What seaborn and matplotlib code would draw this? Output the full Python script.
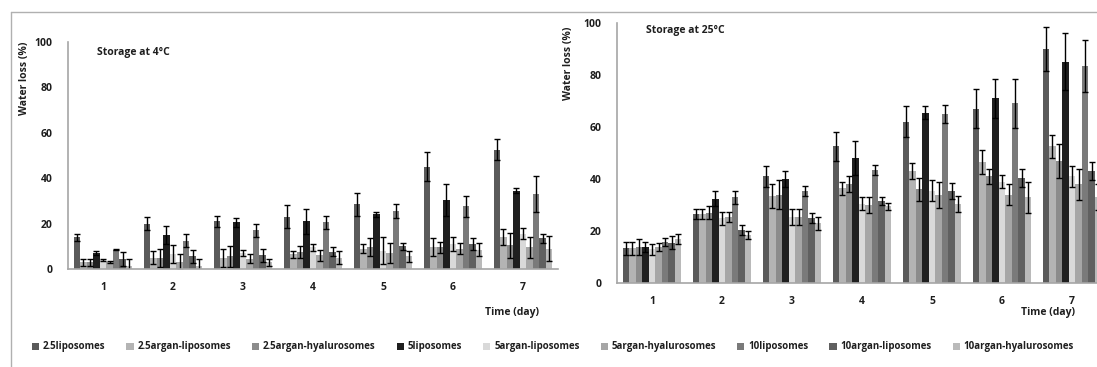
from matplotlib import pyplot as plt
import matplotlib.lines as mlines
import numpy as np
import seaborn as sns
import pandas as pd

days = ['1', '2', '3', '4', '5', '6', '7']
series = ['2.5liposomes', '2.5argan-liposomes', '2.5argan-hyalurosomes', '5liposomes',
          '5argan-liposomes', '5argan-hyalurosomes', '10liposomes', '10argan-liposomes',
          '10argan-hyalurosomes']
greys = ['#5a5a5a', '#b4b4b4', '#8c8c8c', '#1f1f1f', '#d9d9d9', '#a6a6a6', '#7a7a7a',
         '#606060', '#bababa']

# storage at 4 C, one row per formulation, one value per day
cold_mean = [
    [14, 20, 21, 23, 28.5, 45, 52.5],
    [3, 5, 5, 6.5, 9, 9.5, 14],
    [3, 5, 5.5, 7.5, 9.5, 9.5, 10.5],
    [7, 15, 20.5, 21, 24, 30.5, 34.5],
    [4, 6.5, 7, 9.5, 8, 11, 15.5],
    [3, 3, 4.5, 6, 7, 9, 9.5],
    [8.5, 12.5, 17, 20.5, 25.5, 27.5, 33],
    [4.5, 5.5, 6, 7.5, 10, 11, 13.5],
    [1.5, 1.5, 3, 5, 5.5, 8.5, 9],
]
cold_sd = [
    [1.5, 3, 2.5, 5, 5, 6.5, 4.5],
    [1.5, 3, 4, 1.5, 2, 4, 3.5],
    [1.5, 4, 4.5, 2.5, 4, 2.5, 5.5],
    [1, 4, 2, 5.5, 1.2, 7, 1],
    [0.5, 4, 1.5, 1.5, 6, 3, 2.5],
    [0.5, 3.5, 2, 2.5, 4.5, 2.5, 4.5],
    [0.3, 3, 3, 3, 3, 4.5, 8],
    [3, 3, 3, 2, 1.5, 2.5, 2],
    [3, 3, 1.5, 3, 2.5, 3, 5.5],
]

# storage at 25 C
warm_mean = [
    [13.5, 26.5, 41, 52.5, 62, 67, 90],
    [13.5, 26.5, 33.5, 36.5, 43, 46.5, 52.5],
    [14, 27, 34, 38, 36, 41, 47],
    [14, 32.5, 40, 48, 65.5, 71, 85],
    [13, 25, 25.5, 30.5, 35.5, 39, 41],
    [14, 25.5, 25.5, 30, 34, 34, 38],
    [16, 33, 35.5, 43.5, 65, 69, 83.5],
    [15.5, 20.5, 25, 31.5, 35.5, 40.5, 43],
    [17, 18.5, 23, 29.5, 30.5, 33, 33],
]
warm_sd = [
    [2.5, 2, 4, 5.5, 6, 7.5, 8.5],
    [2.5, 2, 4.5, 2.5, 3, 4.5, 4.5],
    [3, 2.5, 5.5, 3, 4.5, 3, 6.5],
    [2, 3, 3, 6.5, 2.5, 7.5, 11],
    [2, 2.5, 3, 2.5, 4, 2.5, 4],
    [1.5, 2, 3, 3, 5, 4, 6],
    [1.5, 2.5, 2, 2, 3.5, 9.5, 10],
    [2.5, 2, 2, 1.5, 3, 3.5, 3.5],
    [2, 1.5, 2.5, 1.5, 3, 6, 5],
]


def to_frame(mean):
    rows = []
    for s, vals in zip(series, mean):
        for d, v in zip(days, vals):
            rows.append({'day': d, 'sample': s, 'loss': v})
    return pd.DataFrame(rows)


sns.set_style('white')
plt.rcParams['font.family'] = ['Open Sans', 'DejaVu Sans']
plt.rcParams['font.weight'] = 'bold'
txt = '#1e1e1e'
fs = 7.5

fig = plt.figure(figsize=(10.97, 3.67), dpi=100)
ax1 = fig.add_axes([68 / 1097, 1 - 269 / 367, 490 / 1097, 227.3 / 367])
ax2 = fig.add_axes([617 / 1097, 1 - 283.3 / 367, 490 / 1097, 260.6 / 367])


def draw(ax, mean, sd, title, title_y):
    df = to_frame(mean)
    sns.barplot(data=df, x='day', y='loss', hue='sample', hue_order=series, order=days,
                palette=greys, width=0.84, errorbar=None, saturation=1, linewidth=0,
                ax=ax)
    for cont, err in zip(ax.containers, sd):
        xs = [p.get_x() + p.get_width() / 2 for p in cont.patches]
        hs = [p.get_height() for p in cont.patches]
        ax.errorbar(xs, hs, yerr=err, fmt='none', ecolor='black', elinewidth=1,
                    capsize=2, capthick=1)
    ax.get_legend().remove()
    ax.set_ylim(0, 100)
    ax.set_yticks([0, 20, 40, 60, 80, 100])
    ax.set_xlim(-0.5, 6.5)
    ax.set_xlabel('')
    ax.set_ylabel('')
    sns.despine(ax=ax)
    for side in ['left', 'bottom']:
        ax.spines[side].set_color('#a6a6a6')
        ax.spines[side].set_linewidth(1.2)
    ax.tick_params(axis='y', length=3, width=1, color='#a6a6a6', labelsize=fs,
                   labelcolor=txt, pad=8)
    ax.tick_params(axis='x', length=0, labelsize=fs, labelcolor=txt, pad=9)
    for lab in ax.get_xticklabels() + ax.get_yticklabels():
        lab.set_fontweight('bold')
    ax.text(0.06, title_y, title, transform=ax.transAxes, fontsize=fs,
            fontweight='bold', color=txt)


draw(ax1, cold_mean, cold_sd, 'Storage at 4°C', 0.94)
draw(ax2, warm_mean, warm_sd, 'Storage at 25°C', 0.96)

fig.text(25 / 1097, 1 - 78 / 367, 'Water loss (%)', rotation=90, ha='center', va='center',
         fontsize=fs, fontweight='bold', color=txt)
fig.text(569 / 1097, 1 - 63 / 367, 'Water loss (%)', rotation=90, ha='center', va='center',
         fontsize=fs, fontweight='bold', color=txt)
fig.text(512 / 1097, 1 - 312 / 367, 'Time (day)', ha='center', va='center',
         fontsize=fs, fontweight='bold', color=txt)
fig.text(1048 / 1097, 1 - 313 / 367, 'Time (day)', ha='center', va='center',
         fontsize=fs, fontweight='bold', color=txt)

# outer frame lines of the original figure
fig.add_artist(mlines.Line2D([11 / 1097, 1], [1 - 12 / 367, 1 - 12 / 367],
                             color='#b0b0b0', lw=1))
fig.add_artist(mlines.Line2D([11 / 1097, 11 / 1097], [0, 1 - 12 / 367],
                             color='#b0b0b0', lw=1))

handles, labels = ax1.containers, series
fig.legend(handles, labels, loc='center left', bbox_to_anchor=(23 / 1097, 1 - 347 / 367),
           ncol=9, frameon=False, handlelength=0.75, handleheight=0.75,
           handletextpad=0.4, columnspacing=2.15, labelcolor=txt,
           prop={'size': 7, 'weight': 'bold'})

fig.savefig('out.png', dpi=100)
